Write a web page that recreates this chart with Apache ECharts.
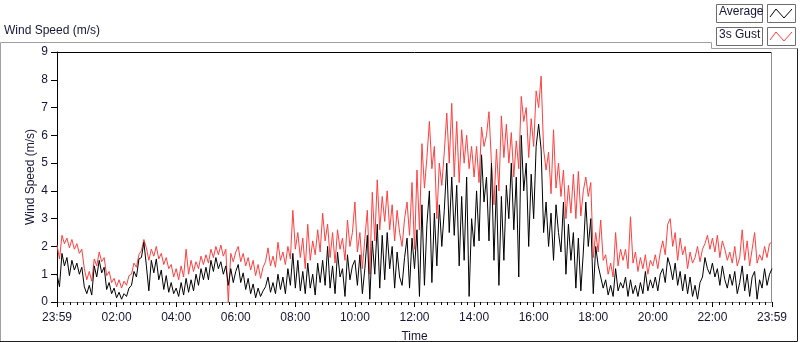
<!DOCTYPE html>
<html>
<head>
<meta charset="utf-8">
<title>Wind Speed</title>
<script src="https://cdn.jsdelivr.net/npm/echarts/dist/echarts.min.js"></script>
<style>
  html, body { margin: 0; padding: 0; background: #fff; }
  #chart { width: 800px; height: 342px; }
</style>
</head>
<body>
<div id="chart"></div>
<script>
// one reading every 5 minutes, starting 23:59 the day before
var stepMinutes = 5;
var tickLabels = ['23:59', '02:00', '04:00', '06:00', '08:00', '10:00', '12:00',
                  '14:00', '16:00', '18:00', '20:00', '22:00', '23:59'];

// Average wind speed (m/s), 12 readings per hour
var avgSpeed = [
  1.0, 0.55, 1.75, 1.3, 1.6, 0.95, 1.5, 1.15, 1.4, 1.0, 1.25, 0.55,
  0.3, 0.6, 0.25, 1.3, 0.9, 1.5, 1.05, 1.25, 0.45, 0.7, 0.3, 0.5,
  0.15, 0.35, 0.1, 0.3, 0.2, 0.5, 0.6, 1.1, 0.9, 1.55, 1.6, 2.15,
  1.3, 0.4, 1.5, 1.05, 1.55, 0.8, 1.15, 0.45, 0.95, 0.35, 0.7, 0.3,
  0.5, 0.2, 0.7, 0.25, 0.85, 0.35, 0.8, 0.4, 1.0, 0.6, 1.2, 0.8,
  1.25, 0.8, 1.5, 1.1, 1.6, 1.2, 1.45, 1.0, 1.3, 0.6, 1.2, 0.7,
  1.1, 1.35, 0.7, 1.05, 0.45, 0.85, 0.3, 0.65, 0.15, 0.5, 0.2, 0.4,
  0.55, 0.9, 0.35, 0.7, 0.3, 1.0, 0.45, 0.9, 0.3, 1.2, 0.6, 1.75,
  0.5, 1.5, 0.4, 1.1, 0.3, 1.4, 0.5, 1.0, 0.25, 1.4, 0.7, 1.5,
  0.6, 2.0, 0.5, 1.3, 0.3, 1.8, 0.9, 1.2, 0.2, 1.7, 0.8, 1.3,
  1.5, 0.6, 1.7, 0.3, 1.2, 2.4, 0.1, 2.2, 1.0, 2.8, 0.5, 2.4,
  0.8, 2.5, 1.2, 2.0, 0.5, 1.8, 0.9, 0.6, 1.6, 2.3, 0.5, 2.3,
  1.2, 2.6, 0.2, 3.5, 0.6, 2.8, 4.0, 0.7, 3.2, 1.3, 3.5, 2.0,
  3.3, 5.0, 2.5, 4.5, 2.4, 4.2, 1.3, 3.8, 1.5, 4.5, 0.2, 3.0,
  2.0, 4.0, 2.2, 5.3, 3.6, 4.5, 2.2, 5.0, 1.5, 4.2, 0.6, 3.8,
  1.5, 4.2, 3.0, 5.0, 2.6, 4.5, 0.9, 6.0, 4.0, 5.0, 2.0, 4.6,
  3.0, 5.6, 6.4, 5.5, 2.5, 3.6, 2.0, 3.2, 1.5, 3.5, 2.5, 1.8,
  3.6, 1.0, 2.8, 1.5, 2.5, 0.5, 2.3, 0.4, 1.8, 3.6, 2.0, 3.0,
  0.3, 2.0, 1.3, 0.9, 0.5, 0.8, 0.25, 0.6, 0.2, 1.2, 0.4, 0.7,
  0.5, 0.9, 0.2, 0.8, 0.3, 0.6, 0.2, 0.7, 0.3, 1.1, 0.4, 0.8,
  0.5, 0.9, 0.4, 1.0, 1.2, 0.7, 1.6, 1.3, 0.8, 1.4, 0.6, 1.1,
  0.4, 1.0, 0.3, 0.9, 0.2, 0.6, 0.1, 0.7, 0.9, 1.6, 1.2, 1.0,
  1.4, 0.9, 1.2, 0.6, 1.3, 0.8, 0.5, 1.0, 0.6, 1.1, 0.3, 0.7,
  1.3, 0.4, 1.0, 0.2, 0.9, 1.1, 0.1, 0.8, 0.5, 1.2, 0.6, 1.0,
  1.2
];

// 3 second gust (m/s)
var gustSpeed = [
  2.05, 1.55, 2.4, 2.1, 2.3, 1.95, 2.25, 1.9, 2.1, 1.75, 1.9, 1.2,
  0.8, 1.1, 0.75, 1.55, 1.3, 1.8, 1.45, 1.6, 0.95, 1.1, 0.7, 0.85,
  0.55, 0.8, 0.5, 0.75, 0.6, 0.95, 1.0, 1.4, 1.25, 1.7, 1.85, 2.25,
  1.95, 1.5, 1.9, 1.65, 2.0, 1.55, 1.75, 1.35, 1.6, 1.2, 1.35, 0.9,
  1.2, 0.8, 1.3, 0.9, 1.9, 1.0, 1.5, 1.1, 1.45, 1.2, 1.65, 1.35,
  1.7, 1.4, 1.9, 1.6, 2.0, 1.7, 2.05, 1.65, 1.9, 0.0, 1.75, 1.45,
  1.8, 2.0, 1.45, 1.75, 1.3, 1.6, 1.15, 1.5, 0.95, 1.35, 0.85, 1.25,
  1.45, 1.95, 1.3, 1.65, 1.25, 2.15, 1.5, 1.8, 1.35, 2.0, 1.55, 3.3,
  1.9, 2.5, 1.6, 2.3, 1.2, 2.8, 1.5, 2.2, 1.7, 2.6, 1.8, 3.2,
  2.2, 2.8, 1.6, 2.5, 1.4, 2.6, 1.9, 2.3, 1.5, 2.95, 2.0, 2.5,
  3.6, 1.8, 2.5, 1.2, 2.3, 3.3, 1.0, 3.95, 2.2, 4.4, 2.6, 3.8,
  2.9, 4.0, 2.6, 3.5, 2.2, 3.3, 2.5, 2.0, 3.0, 3.6, 2.4, 4.3,
  1.9, 4.75, 2.6, 5.7, 4.1, 5.2, 6.5, 4.8, 5.6, 3.0, 5.0, 4.2,
  5.4, 6.8, 5.0, 7.15, 4.5, 6.5, 4.3, 6.2, 5.0, 6.0, 4.8, 5.6,
  4.5, 5.6, 4.3, 6.3, 5.6, 6.0, 6.85, 5.0, 3.5, 5.5, 4.0, 6.7,
  5.2, 6.4, 5.0, 6.1, 4.5, 5.8, 4.8, 7.4, 6.5, 7.0, 5.2, 6.6,
  5.6, 7.6, 7.0, 8.13, 5.5, 4.75, 5.4, 3.9, 6.2, 4.1, 5.0, 3.8,
  4.75, 3.0, 4.2, 3.2, 4.6, 3.0, 4.7, 3.1, 4.0, 4.5, 3.8, 4.3,
  1.6, 2.5, 1.8, 2.95, 1.5, 1.7, 1.0, 1.4, 0.9, 2.5, 1.3, 1.9,
  1.5, 1.9, 1.2, 3.07, 1.4, 1.8, 1.1, 1.6, 1.2, 1.7, 1.0, 1.5,
  1.3, 1.7, 1.2, 1.8, 2.2, 1.7, 2.8, 3.0, 2.0, 2.5, 1.5, 2.3,
  1.7, 2.0, 1.2, 1.8, 1.4, 1.6, 2.0, 1.45, 1.9, 2.1, 2.4, 1.9,
  2.3, 1.8, 2.4, 1.6, 2.2, 1.9, 1.5, 1.8, 1.4, 2.0, 1.3, 1.6,
  2.6, 1.5, 2.2, 1.3, 1.9, 2.5, 1.4, 1.7, 1.5, 2.0, 1.6, 2.1,
  2.15
];

function toPoints(values) {
  var pts = [];
  for (var i = 0; i < values.length; i++) {
    pts.push([i * stepMinutes, values[i]]);
  }
  return pts;
}

var labelColor = '#161636';
var font = 'Liberation Sans, Arial, sans-serif';

var chart = echarts.init(document.getElementById('chart'));
var option = {
  animation: false,
  backgroundColor: '#fff',
  grid: { left: 57, top: 52, right: 28, bottom: 40, outerBoundsMode: 'none', containLabel: false },
  xAxis: {
    type: 'value',
    min: 0,
    max: 1440,
    interval: 120,
    name: 'Time',
    nameLocation: 'middle',
    nameGap: 29,
    nameMoveOverlap: false,
    nameTextStyle: { color: labelColor, fontSize: 12, fontFamily: font },
    axisLine: { lineStyle: { color: '#8c8c8c', width: 1 } },
    axisTick: { length: 5, lineStyle: { color: '#000' } },
    minorTick: { show: true, splitNumber: 9, length: 3, lineStyle: { color: '#000' } },
    splitLine: { show: false },
    axisLabel: {
      color: labelColor, fontSize: 12, fontFamily: font, margin: 10,
      formatter: function (v) { return tickLabels[Math.round(v / 120)]; }
    }
  },
  yAxis: {
    type: 'value',
    min: 0,
    max: 9,
    interval: 1,
    name: 'Wind Speed (m/s)',
    nameLocation: 'middle',
    nameGap: 20,
    nameMoveOverlap: false,
    nameTextStyle: { color: labelColor, fontSize: 12, fontFamily: font },
    axisLine: { show: true, lineStyle: { color: '#000', width: 1 } },
    axisTick: { show: true, length: 6, lineStyle: { color: '#000' } },
    splitLine: { show: false },
    axisLabel: { color: labelColor, fontSize: 12, fontFamily: font, margin: 9 }
  },
  series: [
    {
      name: '3s Gust',
      type: 'line',
      data: toPoints(gustSpeed),
      showSymbol: false,
      lineStyle: { color: '#ff3f3f', width: 1 },
      itemStyle: { color: '#ff3f3f' }
    },
    {
      name: 'Average',
      type: 'line',
      data: toPoints(avgSpeed),
      showSymbol: false,
      lineStyle: { color: '#000', width: 1 },
      itemStyle: { color: '#000' }
    }
  ],
  graphic: [
    // outer panel frame
    { type: 'polyline', silent: true, shape: { points: [[0.5, 342], [0.5, 42.5], [711.5, 42.5], [711.5, 48.5], [797.5, 48.5]] },
      style: { stroke: '#a0a0a0', fill: null, lineWidth: 1 } },
    { type: 'polyline', silent: true, shape: { points: [[797.5, 48.5], [797.5, 341.5], [0, 341.5]] },
      style: { stroke: '#202020', fill: null, lineWidth: 1 } },
    // plot border top / right
    { type: 'line', silent: true, shape: { x1: 57, y1: 52.5, x2: 772, y2: 52.5 }, style: { stroke: '#000', lineWidth: 1 } },
    { type: 'line', silent: true, shape: { x1: 771.5, y1: 52, x2: 771.5, y2: 302 }, style: { stroke: '#8c8c8c', lineWidth: 1 } },
    // title
    { type: 'text', left: 4, top: 25, silent: true,
      style: { text: 'Wind Speed (m/s)', fill: labelColor, font: '12px ' + font } },
    // legend
    { type: 'rect', silent: true, shape: { x: 716.5, y: 4.5, width: 46, height: 18 }, style: { fill: '#fff', stroke: '#6e6e6e', lineWidth: 1 } },
    { type: 'text', left: 719, top: 6, silent: true, style: { text: 'Average', fill: labelColor, font: '12px ' + font } },
    { type: 'rect', silent: true, shape: { x: 767.5, y: 4.5, width: 28, height: 18 }, style: { fill: '#fff', stroke: '#6e6e6e', lineWidth: 1 } },
    { type: 'polyline', silent: true, shape: { points: [[770, 17], [776, 9], [784, 18], [792, 9]] }, style: { stroke: '#000', fill: null, lineWidth: 1 } },
    { type: 'rect', silent: true, shape: { x: 716.5, y: 27.5, width: 46, height: 18 }, style: { fill: '#fff', stroke: '#6e6e6e', lineWidth: 1 } },
    { type: 'text', left: 719, top: 29, silent: true, style: { text: '3s Gust', fill: labelColor, font: '12px ' + font } },
    { type: 'rect', silent: true, shape: { x: 767.5, y: 27.5, width: 28, height: 18 }, style: { fill: '#fff', stroke: '#6e6e6e', lineWidth: 1 } },
    { type: 'polyline', silent: true, shape: { points: [[770, 40], [776, 32], [784, 41], [792, 32]] }, style: { stroke: '#ff3f3f', fill: null, lineWidth: 1 } }
  ]
};
chart.setOption(option);
</script>
</body>
</html>
